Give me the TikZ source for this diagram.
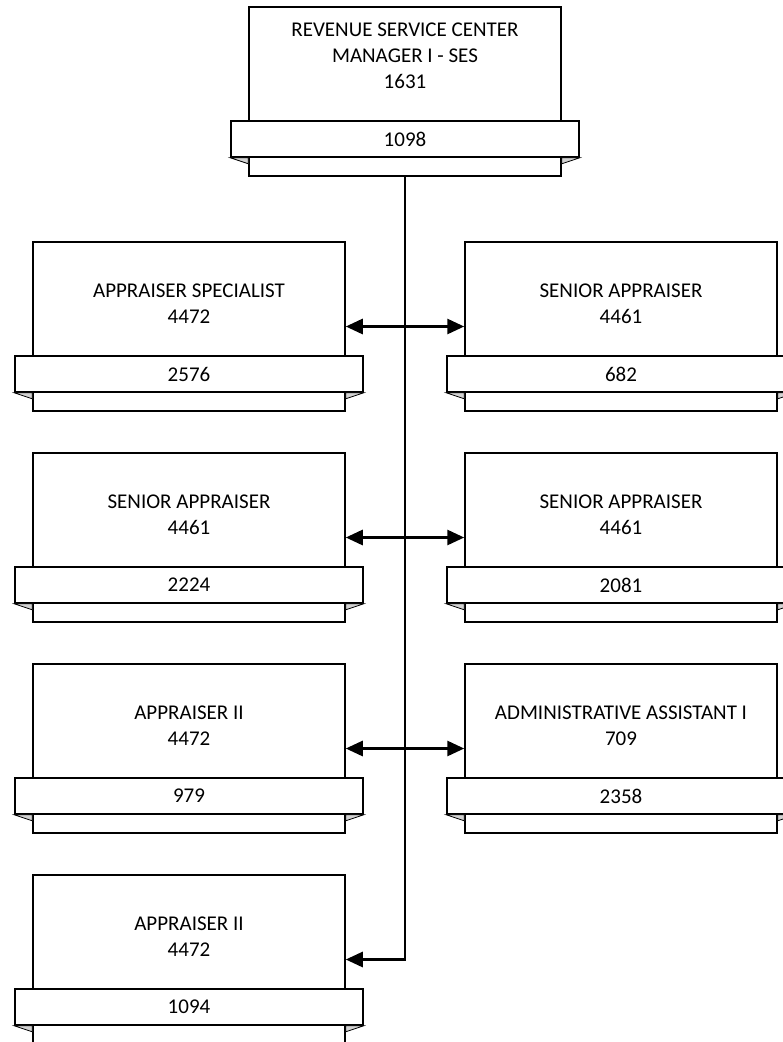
\documentclass[tikz,border=0pt]{standalone}
\usepackage{fontspec}
\setmainfont{Carlito}
\usetikzlibrary{arrows.meta}
\begin{document}
\begin{tikzpicture}[x=1pt,y=-1pt,
post/.style={draw,line width=1.5pt,fill=white,minimum width=312pt,minimum height=169pt,inner sep=0pt},
band/.style={draw,line width=1.5pt,fill=white,minimum width=348pt,minimum height=36pt,inner sep=0pt,font=\fontsize{21}{24}\selectfont},
ttl/.style={align=center,inner sep=0pt,anchor=south,font=\fontsize{21}{26}\selectfont},
fold/.style={fill=gray!35,draw,line width=.8pt},
link/.style={line width=2.8pt}, tip/.tip={Triangle[length=17pt,width=15pt]}]
\useasboundingbox (0,0) rectangle (783,1042);
\foreach \n/\x/\y/\t/\b in {ctr/405/7/{REVENUE SERVICE CENTER\\MANAGER I - SES\\1631}/1098,
l1/189/242/{APPRAISER SPECIALIST\\4472}/2576, r1/621/242/{SENIOR APPRAISER\\4461}/682,
l2/189/453/{SENIOR APPRAISER\\4461}/2224, r2/621/453/{SENIOR APPRAISER\\4461}/2081,
l3/189/664/{APPRAISER II\\4472}/979, r3/621/664/{ADMINISTRATIVE ASSISTANT I\\709}/2358,
l4/189/875/{APPRAISER II\\4472}/1094} {
\node[post] (\n) at (\x,\y+84.5) {};
\node[band] (\n-b) at (\x,\y+132) {\b};
\filldraw[fold] (\n-b.south west) -- (\n-b.south west -| \n.west) -- ++(0,6) -- cycle
(\n-b.south east) -- (\n-b.south east -| \n.east) -- ++(0,6) -- cycle;
\node[ttl] (\n-t) at (\x,\y+82) {\t};
}
\foreach \i in {1,2,3} \draw[link,tip-tip] (l\i.east) -- (r\i.west);
\draw[link,-tip] (ctr.south) |- (l4.east);
\end{tikzpicture}
\end{document}
